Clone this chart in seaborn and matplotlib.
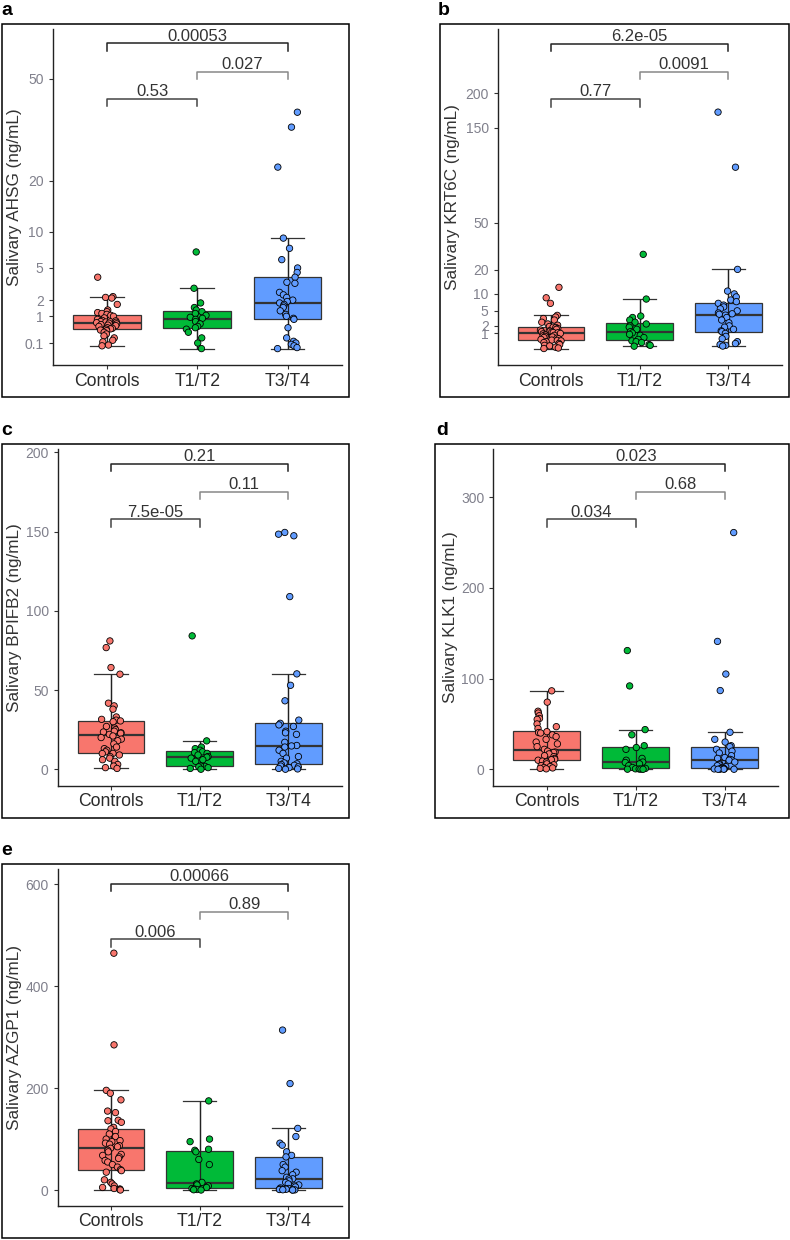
import numpy as np
import pandas as pd
import matplotlib
matplotlib.use("Agg")
import matplotlib.pyplot as plt
import matplotlib.transforms as mtransforms
from matplotlib.patches import Rectangle
from matplotlib import cbook
import seaborn as sns

groups = ["Controls", "T1/T2", "T3/T4"]
group_colors = ["#F8766D", "#00BA38", "#619CFF"]

# a) AHSG (sqrt axis)
ahsg_controls = [4.0, 2.26, 2.2, 2.15, 1.7, 1.35, 1.25, 1.2, 1.15, 1.1, 1.05, 1.0, 0.92, 0.85, 0.8,
                 0.78, 0.75, 0.73, 0.72, 0.7, 0.68, 0.65, 0.62, 0.6, 0.58, 0.55, 0.5, 0.48, 0.46, 0.45,
                 0.42, 0.4, 0.35, 0.3, 0.25, 0.2, 0.15, 0.12, 0.07, 0.06]
ahsg_t12 = [7.0, 2.95, 1.8, 1.5, 1.35, 1.25, 1.15, 1.05, 0.95, 0.9, 0.85, 0.75, 0.65, 0.55, 0.5,
            0.45, 0.35, 0.2, 0.1, 0.03]
ahsg_t34 = [38.7, 34.1, 23.2, 9.0, 7.5, 6.0, 5.0, 4.5, 4.0, 3.5, 3.4, 2.6, 2.4, 2.2, 2.0, 1.9, 1.8,
            1.7, 1.6, 1.5, 1.3, 1.1, 1.0, 0.9, 0.85, 0.5, 0.2, 0.13, 0.1, 0.08, 0.06, 0.04, 0.03]
ahsg_pvals = ["0.53", "0.027", "0.00053"]
ahsg_ticks = [0.1, 1, 2, 5, 10, 20, 50]

# b) KRT6C (sqrt axis)
krt6c_controls = [12.4, 8.7, 7.0, 3.95, 3.6, 3.3, 3.0, 2.6, 2.3, 2.1, 1.9, 1.8, 1.75, 1.6, 1.5,
                  1.4, 1.3, 1.25, 1.2, 1.15, 1.1, 1.07, 1.0, 0.95, 0.85, 0.8, 0.75, 0.7, 0.65, 0.6,
                  0.55, 0.5, 0.45, 0.4, 0.38, 0.35, 0.3, 0.25, 0.2, 0.15, 0.12, 0.1, 0.06, 0.04, 0.03]
krt6c_t12 = [28.4, 8.3, 3.8, 3.5, 3.0, 2.6, 2.3, 2.0, 1.8, 1.5, 1.2, 1.05, 0.9, 0.8, 0.6, 0.45,
             0.35, 0.3, 0.25, 0.15, 0.12, 0.09]
krt6c_t34 = [172, 102, 20.3, 11, 10, 9, 8, 7.5, 7, 6.5, 6, 5.5, 5, 4.5, 4.3, 4.2, 4, 3.5, 3, 2.5,
             2, 1.8, 1.5, 1.3, 1.2, 1, 0.7, 0.5, 0.3, 0.2, 0.15, 0.12, 0.094]
krt6c_pvals = ["0.77", "0.0091", "6.2e-05"]
krt6c_ticks = [1, 2, 5, 10, 20, 50, 150, 200]

# c) BPIFB2
bpifb2_controls = [81, 76.8, 64.2, 60, 41.7, 40, 37.9, 33, 31.5, 31, 30.5, 30, 27, 26, 25, 24,
                   23.5, 23, 22.7, 22, 21, 20, 19, 18, 16, 14, 13, 12, 11, 10, 9.9, 9, 8, 7, 6, 5,
                   3, 2, 1, 0.5]
bpifb2_t12 = [84.2, 17.9, 14, 13, 12, 11, 10.5, 10, 9, 8, 7.6, 7, 6, 5, 1.8, 2, 1.5, 1, 0.5, 0]
bpifb2_t34 = [149.5, 148.4, 147.4, 109, 60.2, 53, 43.2, 31, 29, 28, 27, 24, 23, 22, 17, 15, 14.7,
              14, 12, 10, 8, 7, 5, 4, 3.4, 3, 2.5, 2, 1.5, 1, 0.5, 0.2, 0]
bpifb2_pvals = ["7.5e-05", "0.11", "0.21"]
bpifb2_ticks = [0, 50, 100, 150, 200]

# d) KLK1
klk1_controls = [86.5, 74, 64, 62, 59, 56, 55, 50, 47, 45, 41.5, 40.5, 40, 38, 36, 33, 30, 28,
                 25, 22, 20, 19, 18.5, 17, 15, 14, 12, 11, 10.5, 10, 9, 8, 6, 5, 4, 3, 2, 1.5, 1,
                 0.5]
klk1_t12 = [130.9, 91.9, 43.75, 38, 26, 24, 22, 12, 10, 8, 7.5, 6, 4, 2, 1, 0.5, 0.3, 0.2, 0.1, 0]
klk1_t34 = [261, 141, 105, 86.8, 40.8, 33, 30, 26, 25, 22, 20, 18, 15, 13, 12, 11, 10.3, 10, 8, 6,
            5, 4, 3, 2, 1, 0.7, 0.5, 0.4, 0.3, 0.2, 0.1, 0.05, 0]
klk1_pvals = ["0.034", "0.68", "0.023"]
klk1_ticks = [0, 100, 200, 300]

# e) AZGP1
azgp1_controls = [465, 285, 195.7, 190, 177, 155, 152, 137, 136, 133, 123, 120, 115, 110, 105,
                  100, 97, 95, 92, 90, 87, 85, 82, 78, 75, 70, 68, 65, 62, 58, 55, 50, 45, 40, 38,
                  35, 20, 15, 12, 8, 5, 3, 2, 1, 0]
azgp1_t12 = [175, 100, 95, 80, 78, 75, 60, 50, 15, 12, 10, 8, 5, 3, 2, 1, 0.5, 0]
azgp1_t34 = [314, 209, 121, 105, 92, 88, 75, 68, 65, 50, 45, 38, 35, 30, 25, 22, 21.6, 18, 15, 12,
             10, 8, 6, 4, 3, 2.5, 2, 1.5, 1, 0.5, 0.3, 0.1, 0]
azgp1_pvals = ["0.006", "0.89", "0.00066"]
azgp1_ticks = [0, 200, 400, 600]

W, H = 790, 1240
plt.rcParams["font.family"] = ["Liberation Sans", "DejaVu Sans"]
fig = plt.figure(figsize=(W / 100, H / 100), dpi=100)
np.random.seed(7)


def fig_rect(l, t, r, b):
    return [l / W, 1 - b / H, (r - l) / W, (b - t) / H]


def draw_panel(letter, frame, axbox, letter_xy, ylab_x, values, ylabel, pvals, ticks, sqrt_scale, ylim):
    fl, ft, fr, fb = frame
    fig.patches.append(Rectangle((fl / W, 1 - fb / H), (fr - fl) / W, (fb - ft) / H,
                                 transform=fig.transFigure, fill=False, edgecolor="black", lw=1.1))
    fig.text(letter_xy[0] / W, 1 - letter_xy[1] / H, letter, fontsize=14, fontweight="bold",
             ha="left", va="baseline")
    ax = fig.add_axes(fig_rect(*axbox))

    rows = [(g, v) for g, vals in zip(groups, values) for v in vals]
    df = pd.DataFrame(rows, columns=["group", "value"])
    df["y"] = np.sqrt(df["value"]) if sqrt_scale else df["value"]

    sns.boxplot(data=df, x="group", y="y", hue="group", palette=group_colors, saturation=1,
                width=0.75, showfliers=False, linecolor="#333333", linewidth=0.9,
                medianprops=dict(linewidth=1.6, color="#333333"), legend=False, ax=ax)
    # errorbar drawn across the box, as in the original
    for i, g in enumerate(groups):
        st = cbook.boxplot_stats(df.loc[df.group == g, "y"].values)[0]
        ax.vlines(i, st["whislo"], st["whishi"], color="#222222", lw=0.9, zorder=2.5)
    sns.stripplot(data=df, x="group", y="y", hue="group", palette=group_colors, jitter=0.12,
                  size=4.6, edgecolor="black", linewidth=0.6, legend=False, ax=ax, zorder=3)

    ax.set_xlim(-0.6, 2.6)
    ax.set_ylim(*ylim)
    if sqrt_scale:
        ax.set_yticks(np.sqrt(ticks))
    else:
        ax.set_yticks(ticks)
    ax.set_yticklabels([f"{t:g}" for t in ticks])
    ax.set_xlabel("")
    ax.set_ylabel(ylabel, fontsize=12.3, color="#333333")
    ax.yaxis.set_label_coords(ylab_x / W, 0.5,
                              transform=mtransforms.blended_transform_factory(fig.transFigure, ax.transAxes))
    for s in ["top", "right"]:
        ax.spines[s].set_visible(False)
    for s in ["left", "bottom"]:
        ax.spines[s].set_color("#222222")
        ax.spines[s].set_linewidth(1.0)
    ax.tick_params(axis="y", labelsize=10, labelcolor="#80808c", color="#333333", length=3, pad=3.5)
    ax.tick_params(axis="x", labelsize=12.7, labelcolor="#2a2a2a", color="#333333", length=3, pad=2.5)

    # significance brackets
    trans = ax.get_xaxis_transform()
    brackets = [(0, 1, 0.792, "#444444"), (1, 2, 0.873, "#888888"), (0, 2, 0.957, "#222222")]
    for (x0, x1, yb, col), label in zip(brackets, pvals):
        ax.plot([x0, x0, x1, x1], [yb - 0.022, yb, yb, yb - 0.022], color=col, lw=1.1,
                transform=trans, clip_on=False)
        ax.text((x0 + x1) / 2, yb + 0.008, label, ha="center", va="baseline", fontsize=12,
                color="#333333", transform=trans)
    return ax


draw_panel("a", (1.5, 24.3, 349.3, 397.3), (52.7, 29, 341.7, 365), (1, 15), 22,
           [ahsg_controls, ahsg_t12, ahsg_t34], "Salivary AHSG (ng/mL)", ahsg_pvals, ahsg_ticks,
           True, (-0.246, 8.35))
draw_panel("b", (440, 24.3, 789, 397.3), (497.7, 29.3, 781.7, 365), (438, 15), 460,
           [krt6c_controls, krt6c_t12, krt6c_t34], "Salivary KRT6C (ng/mL)", krt6c_pvals, krt6c_ticks,
           True, (-0.73, 17.65))
draw_panel("c", (1.5, 444.3, 349.3, 818), (57.7, 449.3, 341.7, 785.7), (1, 435), 22,
           [bpifb2_controls, bpifb2_t12, bpifb2_t34], "Salivary BPIFB2 (ng/mL)", bpifb2_pvals,
           bpifb2_ticks, False, (-10.4, 202))
draw_panel("d", (435, 444.3, 789, 818), (493.3, 449.3, 778.3, 785.7), (436, 435), 458,
           [klk1_controls, klk1_t12, klk1_t34], "Salivary KLK1 (ng/mL)", klk1_pvals, klk1_ticks,
           False, (-18.1, 352.8))
draw_panel("e", (1.5, 864.3, 349.3, 1237.5), (57.7, 869.3, 341.7, 1205.7), (1, 855), 22,
           [azgp1_controls, azgp1_t12, azgp1_t34], "Salivary AZGP1 (ng/mL)", azgp1_pvals, azgp1_ticks,
           False, (-30.8, 629.7))

fig.savefig("out.png", dpi=100, facecolor="white")
